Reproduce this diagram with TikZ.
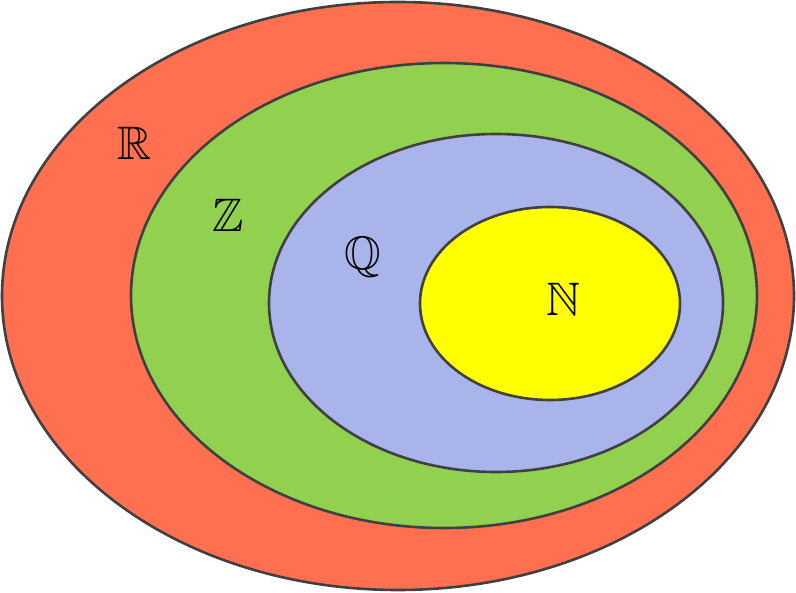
\documentclass[tikz,border=0pt]{standalone}
\usepackage{amssymb}
\definecolor{cR}{RGB}{255,112,80}
\definecolor{cZ}{RGB}{146,208,80}
\definecolor{cQ}{RGB}{168,180,234}
\definecolor{cN}{RGB}{255,255,0}
\definecolor{edge}{RGB}{64,64,64}
\begin{document}
\begin{tikzpicture}[x=1pt,y=-1pt,
  setshape/.style={draw=edge,line width=2.6pt},
  lbl/.style={font=\fontsize{47}{47}\selectfont,inner sep=0pt}]
\useasboundingbox (0,0) rectangle (796,593);
\fill[cR,setshape] (398,296) ellipse [x radius=396,y radius=294];
\fill[cZ,setshape] (444,295.5) ellipse [x radius=313,y radius=232.5];
\fill[cQ,setshape] (496,303) ellipse [x radius=227,y radius=169];
\fill[cN,setshape] (550,303.5) ellipse [x radius=130,y radius=96.5];
\node[lbl] (R) at (134,143) {$\mathbb{R}$};
\node[lbl] (Z) at (228,215) {$\mathbb{Z}$};
\node[lbl] (Q) at (363,257) {$\mathbb{Q}$};
\node[lbl] (N) at (563,299) {$\mathbb{N}$};
\end{tikzpicture}
\end{document}
